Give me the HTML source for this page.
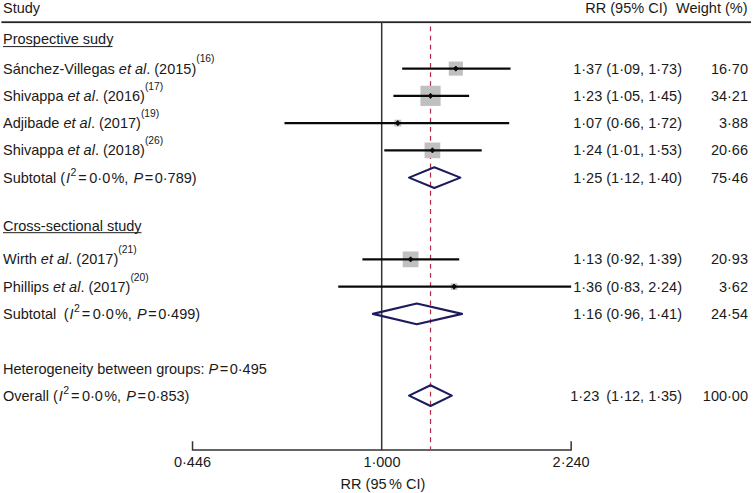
<!DOCTYPE html>
<html><head><meta charset="utf-8"><style>
html,body{margin:0;padding:0;background:#fff;width:753px;height:493px;overflow:hidden}
svg{position:absolute;left:0;top:0;display:block}
text{font-family:"Liberation Sans",sans-serif;font-size:14.5px;fill:#1a1a1a}
</style></head><body>
<svg width="753" height="493" viewBox="0 0 753 493">
<rect x="1.4" y="21.3" width="749.6" height="1.8" fill="#262626"/>
<rect x="380.95" y="22" width="1.5" height="428.3" fill="#333"/>
<line x1="430.52" y1="26.5" x2="430.52" y2="449" stroke="#b02a48" stroke-width="1.2" stroke-dasharray="4.8 4.33"/>
<path d="M192.53 441.3 V450 H571.15 V441.3" fill="none" stroke="#333" stroke-width="1.5"/>
<rect x="3" y="46" width="109.5" height="1.1" fill="#333"/>
<rect x="3" y="232.1" width="138.5" height="1.1" fill="#333"/>
<rect x="448.76" y="61.55" width="14.10" height="14.10" fill="#c0c0c0"/>
<line x1="402.17" y1="68.59" x2="510.54" y2="68.59" stroke="#0a0a0a" stroke-width="2.2"/>
<path d="M455.80 66.00 L458.10 68.59 L455.80 71.19 L453.50 68.59Z" fill="#0a0a0a" stroke="#0a0a0a" stroke-width="0.9" stroke-linejoin="round"/>
<rect x="420.43" y="85.76" width="20.18" height="20.18" fill="#c0c0c0"/>
<line x1="393.40" y1="95.85" x2="469.12" y2="95.85" stroke="#0a0a0a" stroke-width="2.2"/>
<path d="M430.52 93.25 L432.82 95.85 L430.52 98.45 L428.22 95.85Z" fill="#0a0a0a" stroke="#0a0a0a" stroke-width="0.9" stroke-linejoin="round"/>
<rect x="394.42" y="119.71" width="6.80" height="6.80" fill="#c0c0c0"/>
<line x1="284.47" y1="123.11" x2="509.18" y2="123.11" stroke="#0a0a0a" stroke-width="2.2"/>
<path d="M397.82 120.51 L400.12 123.11 L397.82 125.70 L395.52 123.11Z" fill="#0a0a0a" stroke="#0a0a0a" stroke-width="0.9" stroke-linejoin="round"/>
<rect x="424.57" y="142.52" width="15.68" height="15.68" fill="#c0c0c0"/>
<line x1="384.28" y1="150.36" x2="481.72" y2="150.36" stroke="#0a0a0a" stroke-width="2.2"/>
<path d="M432.42 147.76 L434.72 150.36 L432.42 152.96 L430.12 150.36Z" fill="#0a0a0a" stroke="#0a0a0a" stroke-width="0.9" stroke-linejoin="round"/>
<rect x="402.73" y="251.49" width="15.78" height="15.78" fill="#c0c0c0"/>
<line x1="362.39" y1="259.38" x2="459.20" y2="259.38" stroke="#0a0a0a" stroke-width="2.2"/>
<path d="M410.62 256.78 L412.92 259.38 L410.62 261.98 L408.32 259.38Z" fill="#0a0a0a" stroke="#0a0a0a" stroke-width="0.9" stroke-linejoin="round"/>
<rect x="450.80" y="283.35" width="6.56" height="6.56" fill="#c0c0c0"/>
<line x1="338.24" y1="286.63" x2="571.15" y2="286.63" stroke="#0a0a0a" stroke-width="2.2"/>
<path d="M454.09 284.03 L456.39 286.63 L454.09 289.24 L451.79 286.63Z" fill="#0a0a0a" stroke="#0a0a0a" stroke-width="0.9" stroke-linejoin="round"/>
<path d="M409.04 177.62 L434.30 167.22 L460.39 177.62 L434.30 188.02 Z" fill="none" stroke="#1c1c5c" stroke-width="2.1" stroke-linejoin="round"/>
<path d="M372.87 313.89 L416.77 303.49 L462.06 313.89 L416.77 324.29 Z" fill="none" stroke="#1c1c5c" stroke-width="2.1" stroke-linejoin="round"/>
<path d="M409.04 395.65 L430.52 385.25 L451.85 395.65 L430.52 406.05 Z" fill="none" stroke="#1c1c5c" stroke-width="2.1" stroke-linejoin="round"/>
<text x="3" y="12.8">Study</text>
<text x="667.5" y="12.8" text-anchor="end">RR (95% CI)</text>
<text x="747.5" y="12.8" text-anchor="end">Weight (%)</text>
<text x="192.53" y="467.3" text-anchor="middle">0·446</text>
<text x="381.95" y="467.3" text-anchor="middle">1·000</text>
<text x="571.15" y="467.3" text-anchor="middle">2·240</text>
<text x="382.95" y="489.3" text-anchor="middle">RR (95<tspan dx="2.5">%</tspan> CI)</text>
<text x="3" y="43.7">Prospective sudy</text>
<text x="3" y="230.6">Cross-sectional study</text>
<text x="3" y="373.50">Heterogeneity between groups: <tspan font-style="italic">P</tspan><tspan dx="1.5">=</tspan><tspan dx="1.5">0·495</tspan></text>
<text x="3" y="73.69">Sánchez-Villegas <tspan font-style="italic">et al</tspan>. (2015)<tspan dy="-11.2" font-size="10.3">(16)</tspan></text>
<text x="682" y="73.69" text-anchor="end">1·37 (1·09, 1·73)</text>
<text x="748" y="73.69" text-anchor="end">16·70</text>
<text x="3" y="100.95">Shivappa <tspan font-style="italic">et al</tspan>. (2016)<tspan dy="-11.2" font-size="10.3">(17)</tspan></text>
<text x="682" y="100.95" text-anchor="end">1·23 (1·05, 1·45)</text>
<text x="748" y="100.95" text-anchor="end">34·21</text>
<text x="3" y="128.21">Adjibade <tspan font-style="italic">et al</tspan>. (2017)<tspan dy="-11.2" font-size="10.3">(19)</tspan></text>
<text x="682" y="128.21" text-anchor="end">1·07 (0·66, 1·72)</text>
<text x="748" y="128.21" text-anchor="end">3·88</text>
<text x="3" y="155.46">Shivappa <tspan font-style="italic">et al</tspan>. (2018)<tspan dy="-11.2" font-size="10.3">(26)</tspan></text>
<text x="682" y="155.46" text-anchor="end">1·24 (1·01, 1·53)</text>
<text x="748" y="155.46" text-anchor="end">20·66</text>
<text x="3" y="264.48">Wirth <tspan font-style="italic">et al</tspan>. (2017)<tspan dy="-11.2" font-size="10.3">(21)</tspan></text>
<text x="682" y="264.48" text-anchor="end">1·13 (0·92, 1·39)</text>
<text x="748" y="264.48" text-anchor="end">20·93</text>
<text x="3" y="291.74">Phillips <tspan font-style="italic">et al</tspan>. (2017)<tspan dy="-11.2" font-size="10.3">(20)</tspan></text>
<text x="682" y="291.74" text-anchor="end">1·36 (0·83, 2·24)</text>
<text x="748" y="291.74" text-anchor="end">3·62</text>
<text x="3" y="182.72">Subtotal <tspan dx="0">(</tspan><tspan font-style="italic" dx="1">I</tspan><tspan dy="-6.5" dx="0.4" font-size="10.5">2</tspan><tspan dy="6.5" dx="1.8">=</tspan><tspan dx="2.6">0·0</tspan><tspan dx="1.2">%</tspan>, <tspan font-style="italic" dx="1.2">P</tspan><tspan dx="1.5">=</tspan><tspan dx="1.5">0·789)</tspan></text>
<text x="682" y="182.72" text-anchor="end">1·25 (1·12, 1·40)</text>
<text x="748" y="182.72" text-anchor="end">75·46</text>
<text x="3" y="318.99">Subtotal <tspan dx="3.5">(</tspan><tspan font-style="italic" dx="1">I</tspan><tspan dy="-6.5" dx="0.4" font-size="10.5">2</tspan><tspan dy="6.5" dx="1.8">=</tspan><tspan dx="2.6">0·0</tspan><tspan dx="1.2">%</tspan>, <tspan font-style="italic" dx="1.2">P</tspan><tspan dx="1.5">=</tspan><tspan dx="1.5">0·499)</tspan></text>
<text x="682" y="318.99" text-anchor="end">1·16 (0·96, 1·41)</text>
<text x="748" y="318.99" text-anchor="end">24·54</text>
<text x="3" y="400.75">Overall <tspan dx="0">(</tspan><tspan font-style="italic" dx="1">I</tspan><tspan dy="-6.5" dx="0.4" font-size="10.5">2</tspan><tspan dy="6.5" dx="1.8">=</tspan><tspan dx="2.6">0·0</tspan><tspan dx="1.2">%</tspan>, <tspan font-style="italic" dx="1.2">P</tspan><tspan dx="1.5">=</tspan><tspan dx="1.5">0·853)</tspan></text>
<text x="682" y="400.75" text-anchor="end">1·23 <tspan dx="3">(1·12, 1·35)</tspan></text>
<text x="748" y="400.75" text-anchor="end">100·00</text>
</svg>
</body></html>
